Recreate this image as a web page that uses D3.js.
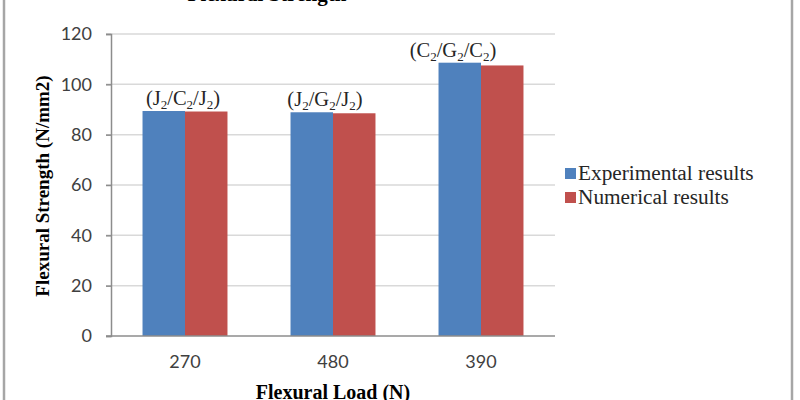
<!DOCTYPE html>
<html>

<head>
    <script src="https://d3js.org/d3.v7.min.js"></script>
    <style>
        body { margin: 0; background: #fff; }
        .serif { font-family: "Liberation Serif", "Times New Roman", serif; }
        .tick text { font-family: Lato, "Liberation Sans", sans-serif; font-size: 18px; fill: #404040; }
    </style>
</head>

<body>
    <svg id="chart" width="800" height="400"></svg>

    <script>
        // data
        const loads = ["270", "480", "390"];
        const seriesNames = ["Experimental results", "Numerical results"];
        const experimental = [89.4, 88.9, 108.6];
        const numerical = [89.2, 88.5, 107.5];
        const specimens = [["J", "C", "J"], ["J", "G", "J"], ["C", "G", "C"]];
        const yTicks = [0, 20, 40, 60, 80, 100, 120];

        const colors = ["#4f81bd", "#c0504d"];
        const labelShift = [-2, -8, -28];

        const svg = d3.select("#chart");
        const plot = { left: 111, right: 555, top: 34, bottom: 336 };

        // outer frame of the chart
        svg.append("rect")
            .attr("x", 4).attr("y", -10)
            .attr("width", 788).attr("height", 430)
            .attr("fill", "none")
            .attr("stroke", "#a6a6a6")
            .attr("stroke-width", 2.5);

        const x = d3.scaleBand()
            .domain(loads)
            .range([plot.left, plot.right])
            .paddingInner(0.426)
            .paddingOuter(0.213);

        const xInner = d3.scaleBand()
            .domain(seriesNames)
            .range([0, x.bandwidth()]);

        const y = d3.scaleLinear()
            .domain([0, 120])
            .range([plot.bottom, plot.top]);

        // gridlines
        svg.append("g")
            .selectAll("line")
            .data(yTicks.filter(d => d > 0))
            .join("line")
            .attr("x1", plot.left - 5)
            .attr("x2", plot.right)
            .attr("y1", d => y(d))
            .attr("y2", d => y(d))
            .attr("stroke", "#d9d9d9")
            .attr("stroke-width", 1.5);

        const rows = loads.map((l, i) => ({ load: l, values: [experimental[i], numerical[i]] }));

        svg.append("g")
            .selectAll("g")
            .data(rows)
            .join("g")
            .attr("transform", d => `translate(${x(d.load)},0)`)
            .selectAll("rect")
            .data(d => d.values.map((v, j) => ({ name: seriesNames[j], value: v, j })))
            .join("rect")
            .attr("x", d => xInner(d.name))
            .attr("width", xInner.bandwidth())
            .attr("y", d => y(d.value))
            .attr("height", d => y(0) - y(d.value))
            .attr("fill", d => colors[d.j]);

        // axes
        const yAxis = svg.append("g")
            .attr("transform", `translate(${plot.left},0)`)
            .call(d3.axisLeft(y).tickValues(yTicks).tickSize(5).tickPadding(14));
        yAxis.select(".domain").attr("stroke", "#8c8c8c").attr("stroke-width", 1.5);
        yAxis.selectAll(".tick line").attr("stroke", "#8c8c8c").attr("stroke-width", 1.5);

        const xAxis = svg.append("g")
            .attr("transform", `translate(0,${plot.bottom})`)
            .call(d3.axisBottom(x).tickSize(0).tickPadding(19));
        xAxis.select(".domain").attr("d", `M${plot.left - 5},0H${plot.right}`)
            .attr("stroke", "#8c8c8c").attr("stroke-width", 1.5);

        // specimen labels over each group
        const labels = svg.append("g").attr("class", "serif")
            .selectAll("text")
            .data(rows)
            .join("text")
            .attr("x", (d, i) => x(d.load) + x.bandwidth() / 2 + labelShift[i])
            .attr("y", d => y(d3.max(d.values)) - 6)
            .attr("text-anchor", "middle")
            .attr("font-size", 20.5)
            .attr("fill", "#262626");
        labels.each(function (d, i) {
            const t = d3.select(this);
            t.append("tspan").text("(");
            specimens[i].forEach((s, k) => {
                t.append("tspan").text(s);
                t.append("tspan").attr("font-size", 13).attr("dy", 4).text("2");
                t.append("tspan").attr("dy", -4).text(k < 2 ? "/" : ")");
            });
        });

        // titles
        svg.append("text").attr("class", "serif")
            .attr("x", 267).attr("y", 1)
            .attr("text-anchor", "middle")
            .attr("font-size", 21).attr("font-weight", "bold")
            .text("Flexural Strength");

        svg.append("text").attr("class", "serif")
            .attr("transform", "translate(49,186) rotate(-90)")
            .attr("text-anchor", "middle")
            .attr("font-size", 19).attr("font-weight", "bold")
            .text("Flexural Strength (N/mm2)");

        svg.append("text").attr("class", "serif")
            .attr("x", 333).attr("y", 399)
            .attr("text-anchor", "middle")
            .attr("font-size", 20).attr("font-weight", "bold")
            .text("Flexural Load (N)");

        // legend
        const legend = svg.append("g")
            .selectAll("g")
            .data(seriesNames)
            .join("g")
            .attr("transform", (d, i) => `translate(565,${168 + i * 24})`);
        legend.append("rect")
            .attr("width", 11).attr("height", 11)
            .attr("fill", (d, i) => colors[i]);
        legend.append("text").attr("class", "serif")
            .attr("x", 13).attr("y", 12)
            .attr("font-size", 21.3)
            .attr("fill", "#262626")
            .text(d => d);
    </script>
</body>

</html>
